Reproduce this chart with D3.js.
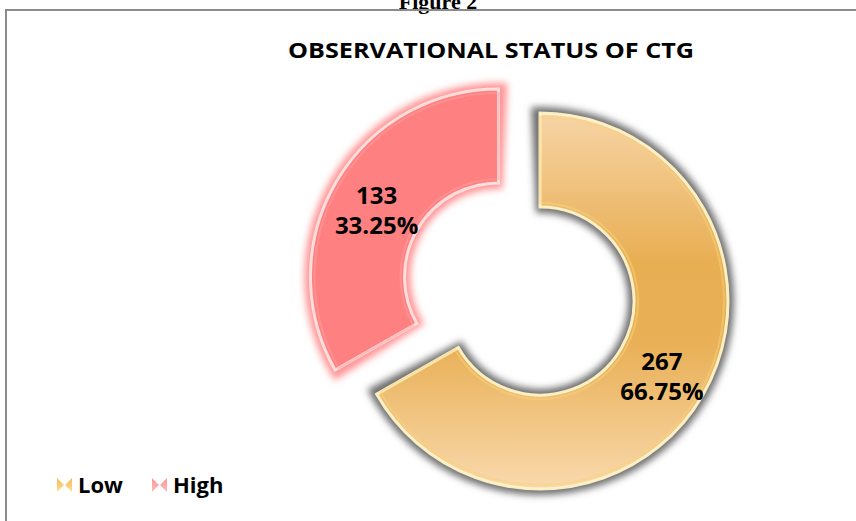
<!DOCTYPE html>
<html>
<head>
<meta charset="utf-8">
<script src="https://cdn.jsdelivr.net/npm/d3@7"></script>
<style>
  body { margin: 0; background: #fff; }
  svg { display: block; }
  text { font-family: "Open Sans", Lato, sans-serif; }
</style>
</head>
<body>
<div id="chart"></div>
<script>
var categories = ["Low", "High"],
    counts = [267, 133],
    percents = ["66.75%", "33.25%"];

var width = 856, height = 521,
    cx = 540, cy = 301,
    outerR = 188, innerR = 94;

var svg = d3.select('#chart').append('svg')
    .attr('width', width)
    .attr('height', height);

var defs = svg.append('defs');

// orange gradient, in slice-local coordinates
var og = defs.append('linearGradient')
    .attr('id', 'gLow')
    .attr('gradientUnits', 'userSpaceOnUse')
    .attr('x1', 0).attr('y1', -outerR).attr('x2', 0).attr('y2', outerR);
og.append('stop').attr('offset', '0%').attr('stop-color', '#f7d4a6');
og.append('stop').attr('offset', '40%').attr('stop-color', '#e8ae52');
og.append('stop').attr('offset', '62%').attr('stop-color', '#e9b057');
og.append('stop').attr('offset', '100%').attr('stop-color', '#f9d9ad');

defs.append('filter').attr('id', 'blur')
    .attr('x', '-20%').attr('y', '-20%').attr('width', '140%').attr('height', '140%')
  .append('feGaussianBlur').attr('stdDeviation', 3.5);

// legend marker gradients
var lg1 = defs.append('linearGradient').attr('id', 'mLow').attr('x1', 0).attr('y1', 0).attr('x2', 0).attr('y2', 1);
lg1.append('stop').attr('offset', '0%').attr('stop-color', '#f6b84e');
lg1.append('stop').attr('offset', '100%').attr('stop-color', '#fbe09a');
var lg2 = defs.append('linearGradient').attr('id', 'mHigh').attr('x1', 0).attr('y1', 0).attr('x2', 0).attr('y2', 1);
lg2.append('stop').attr('offset', '0%').attr('stop-color', '#ff9090');
lg2.append('stop').attr('offset', '100%').attr('stop-color', '#ffc0c0');

// "Figure 2" caption, cut off at the top as in the page it came from
svg.append('text')
    .attr('x', 438).attr('y', 9)
    .attr('text-anchor', 'middle')
    .style('font-family', '"Liberation Serif", serif')
    .style('font-weight', 'bold')
    .style('font-size', '22px')
    .text('Figure 2');

// chart frame
svg.append('rect')
    .attr('x', 6).attr('y', 10)
    .attr('width', 860).attr('height', 520)
    .attr('fill', 'none')
    .attr('stroke', '#8c8c8c')
    .attr('stroke-width', 2);

svg.append('text')
    .attr('x', 491).attr('y', 58)
    .attr('text-anchor', 'middle')
    .attr('textLength', 406)
    .attr('lengthAdjust', 'spacingAndGlyphs')
    .style('font-weight', 'bold')
    .style('font-size', '21px')
    .text('OBSERVATIONAL STATUS OF CTG');

var pie = d3.pie().sort(null).value(function(d) { return d; });
var arcs = pie(counts);

var arc = d3.arc().innerRadius(innerR).outerRadius(outerR);
var haloArc = d3.arc().innerRadius(innerR - 6).outerRadius(outerR + 6);
var bevel = d3.arc().innerRadius(innerR + 4).outerRadius(outerR - 4);

// explosion: High slice pulled out along its mid angle
var explode = [0, 48];
var fills = ['url(#gLow)', '#ff8080'];
var halos = ['#6e6e6e', '#ff9494'];

function offset(d, i) {
  var a = (d.startAngle + d.endAngle) / 2;
  return [cx + Math.sin(a) * explode[i], cy - Math.cos(a) * explode[i]];
}

var slices = svg.selectAll('.slice')
    .data(arcs)
  .enter().append('g')
    .attr('class', 'slice')
    .attr('transform', function(d, i) { var o = offset(d, i); return 'translate(' + o[0] + ',' + o[1] + ')'; });

// blurred shadow / glow behind each slice
slices.append('path')
    .attr('d', function(d) {
      var pad = 0.045;
      return haloArc({startAngle: d.startAngle - pad, endAngle: d.endAngle + pad});
    })
    .attr('fill', function(d, i) { return halos[i]; })
    .attr('filter', 'url(#blur)');

slices.append('path')
    .attr('d', arc)
    .attr('fill', function(d, i) { return fills[i]; });

// bevel highlights
slices.append('path')
    .attr('d', arc)
    .attr('fill', 'none')
    .attr('stroke', function(d, i) { return i === 0 ? '#fff4c8' : '#ffe2e2'; })
    .attr('stroke-width', 3)
    .attr('stroke-opacity', 0.95);

slices.append('path')
    .attr('d', bevel)
    .attr('fill', 'none')
    .attr('stroke', function(d, i) { return i === 0 ? '#f7d47c' : '#ffa0a0'; })
    .attr('stroke-width', 2)
    .attr('stroke-opacity', 0.5);

var labels = slices.append('text')
    .attr('transform', function(d) { var c = arc.centroid(d); return 'translate(' + c[0] + ',' + c[1] + ')'; })
    .attr('text-anchor', 'middle')
    .style('font-weight', 'bold')
    .style('font-size', '24px');

labels.append('tspan').attr('x', 0).attr('y', -2).text(function(d, i) { return counts[i]; });
labels.append('tspan').attr('x', 0).attr('y', 28).text(function(d, i) { return percents[i]; });

// legend
var legendX = [57, 152];
var legend = svg.selectAll('.legend')
    .data(categories)
  .enter().append('g')
    .attr('class', 'legend')
    .attr('transform', function(d, i) { return 'translate(' + legendX[i] + ',485)'; });

legend.append('path')
    .attr('d', 'M0,-7 L7,0 L0,7 Z M15,-7 L8,0 L15,7 Z')
    .attr('fill', function(d, i) { return i === 0 ? 'url(#mLow)' : 'url(#mHigh)'; });

legend.append('text')
    .attr('x', 21).attr('y', 8)
    .style('font-weight', 'bold')
    .style('font-size', '22px')
    .text(function(d) { return d; });
</script>
</body>
</html>
